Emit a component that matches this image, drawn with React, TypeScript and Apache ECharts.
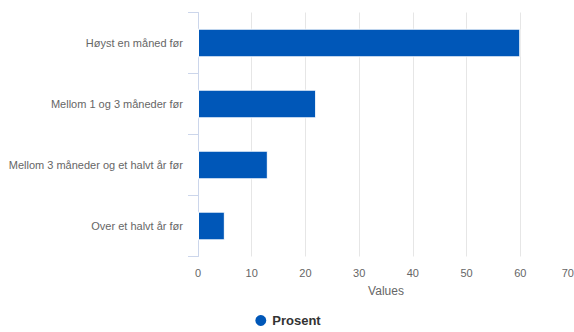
import React, { useEffect, useRef } from "react";
import * as echarts from "echarts";

const categories = [
  "Høyst en måned før",
  "Mellom 1 og 3 måneder før",
  "Mellom 3 måneder og et halvt år før",
  "Over et halvt år før",
];
const values = [60, 22, 13, 5];
const seriesName = "Prosent";
const axisTitle = "Values";

export default function App() {
  const ref = useRef<HTMLDivElement>(null);
  useEffect(() => {
    if (!ref.current) return;
    const chart = echarts.init(ref.current, undefined, { renderer: "svg" });
    const font = "'Liberation Sans', Arial, Helvetica, sans-serif";
    chart.setOption({
      animation: false,
      textStyle: { fontFamily: font },
      grid: {
        left: 198,
        right: 0,
        top: 12.5,
        bottom: 75.5,
        containLabel: false,
        outerBoundsMode: "none",
      },
      legend: {
        bottom: -1,
        left: "center",
        icon: "circle",
        itemWidth: 13,
        itemHeight: 13,
        itemGap: 7,
        textStyle: { fontSize: 13, fontWeight: "bold", color: "#333333", fontFamily: font },
        data: [seriesName],
      },
      xAxis: {
        type: "value",
        min: 0,
        max: 70,
        interval: 10,
        name: axisTitle,
        nameLocation: "middle",
        nameGap: 28,
        nameTextStyle: { fontSize: 12, color: "#666666", fontFamily: font },
        axisLine: { show: false },
        axisTick: { show: false },
        axisLabel: {
          fontSize: 11,
          color: "#666666",
          margin: 11,
          fontFamily: font,
          alignMaxLabel: "right",
        },
        splitLine: { show: true, lineStyle: { color: "#e6e6e6", width: 1 } },
      },
      yAxis: {
        type: "category",
        data: categories,
        inverse: true,
        axisLine: { show: true, lineStyle: { color: "#ccd6eb", width: 1 } },
        axisTick: { show: true, length: 10, lineStyle: { color: "#ccd6eb" } },
        axisLabel: { fontSize: 11, color: "#666666", margin: 15, fontFamily: font },
        splitLine: { show: false },
      },
      series: [
        {
          name: seriesName,
          type: "bar",
          data: values,
          barWidth: "47%",
          itemStyle: { color: "#0057b8", borderColor: "#ffffff", borderWidth: 1 },
        },
      ],
    });
    return () => chart.dispose();
  }, []);
  return (
    <div
      ref={ref}
      style={{ position: "fixed", left: 0, top: 0, width: 574, height: 332, background: "#ffffff" }}
    />
  );
}
